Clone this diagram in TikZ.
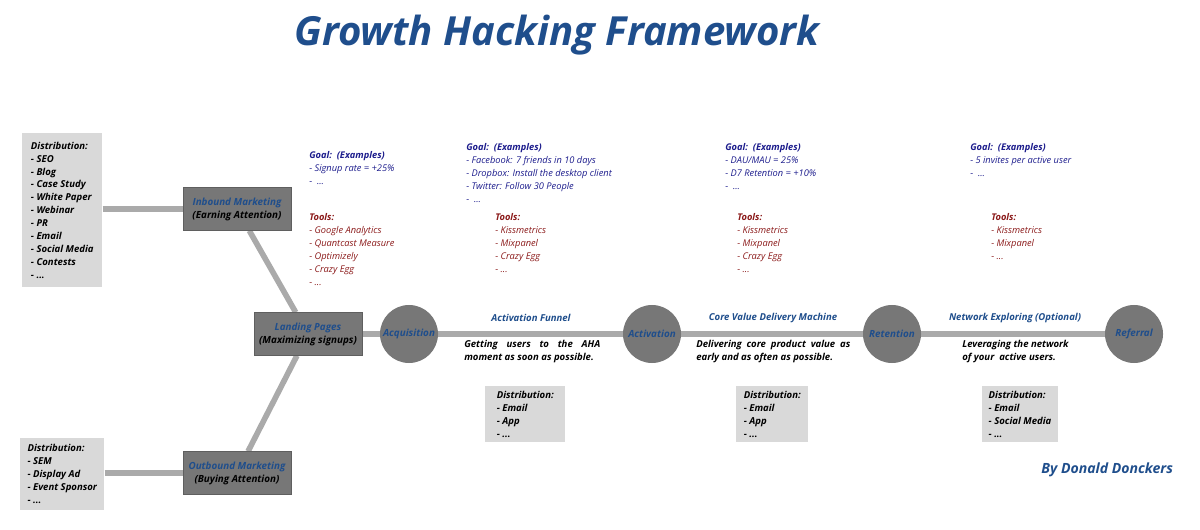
\documentclass[tikz,border=0pt]{standalone}
\usepackage{fontspec}
\setmainfont{Open Sans}
\usepackage{xcolor}
\usepackage{tikz}
\usetikzlibrary{positioning, calc, backgrounds}
\definecolor{titleblue}{HTML}{1F4E8C}
\definecolor{goalblue}{HTML}{1C1C8C}
\definecolor{toolred}{HTML}{8B1A1A}
\definecolor{stagegray}{HTML}{777777}
\definecolor{distgray}{HTML}{D9D9D9}
\definecolor{linegray}{HTML}{AAAAAA}
\newcommand{\fullline}[2]{\makebox[#1][s]{#2}}

\begin{document}
\begin{tikzpicture}[
    x=0.025cm, y=-0.025cm,
    font=\fontsize{6.6}{9.2}\selectfont\itshape,
    stage/.style={rectangle, draw=stagegray!80!black, fill=stagegray, minimum width=2.7cm, minimum height=1.07cm, align=center, inner sep=1pt, font=\fontsize{7}{9.2}\selectfont\bfseries\itshape},
    funnelstep/.style={circle, fill=stagegray, minimum size=1.45cm, inner sep=0pt, text=titleblue, font=\fontsize{7}{9.2}\selectfont\bfseries\itshape},
    dist/.style={rectangle, fill=distgray, anchor=north west, align=left, inner xsep=0.16cm, inner ysep=3pt, font=\fontsize{6.8}{9.2}\selectfont\bfseries\itshape},
    goal/.style={anchor=north west, align=left, inner sep=0pt, text=goalblue},
    tools/.style={anchor=north west, align=left, inner sep=0pt, text=toolred},
    phase/.style={text=titleblue, font=\fontsize{6.8}{9.2}\selectfont\bfseries\itshape},
    desc/.style={anchor=north west, align=left, inner sep=0pt, font=\fontsize{6.8}{9.2}\selectfont\bfseries\itshape},
    link/.style={line width=4pt, draw=linegray}
]
    \useasboundingbox (0,0) rectangle (1200,530);
    \node[text=titleblue, font=\fontsize{28.5}{32}\selectfont\bfseries\itshape] (title) at (557,35) {Growth Hacking Framework};

    % left column
    \node[dist, minimum width=2cm, minimum height=3.85cm] (inbdist) at (22,133) {Distribution:\\- SEO\\- Blog\\- Case Study\\- White Paper\\- Webinar\\- PR\\- Email\\- Social Media\\- Contests\\- ...};
    \node[dist, minimum width=2.1cm, minimum height=1.8cm] (outdist) at (20,438) {Distribution:\\- SEM\\- Display Ad\\- Event Sponsor\\- ...};
    \node[stage] (inbound) at (237,209) {\textcolor{titleblue}{Inbound Marketing}\\(Earning Attention)};
    \node[stage] (landing) at (308,334) {\textcolor{titleblue}{Landing Pages}\\(Maximizing signups)};
    \node[stage] (outbound) at (237,473) {\textcolor{titleblue}{Outbound Marketing}\\(Buying Attention)};

    % funnel steps
    \node[funnelstep] (acq) at (409,334) {Acquisition};
    \node[funnelstep] (act) at (652,334) {Activation};
    \node[funnelstep] (ret) at (892,334) {Retention};
    \node[funnelstep] (ref) at (1134,334) {Referral};

    \begin{scope}[on background layer]
    \draw[link] (inbdist.east |- inbound) -- (inbound);
    \draw[link] (outdist.east |- outbound) -- (outbound);
    \draw[link] (inbound) -- (landing);
    \draw[link] (landing) -- (outbound);
    \draw[link] (landing) -- (acq);
    \draw[link] (acq) -- (act);
    \draw[link] (act) -- (ret);
    \draw[link] (ret) -- (ref);
    \end{scope}

    % phase labels
    \node[phase] (funnel) at (531,318) {Activation Funnel};
    \node[phase] (core) at (773,318) {Core Value Delivery Machine};
    \node[phase] (network) at (1015,318) {Network Exploring (Optional)};
    \node[desc] (funneldesc) at (464,340) {\fullline{3.4cm}{Getting users to the AHA}\\moment as soon as possible.};
    \node[desc] (coredesc) at (696,340) {\fullline{3.85cm}{Delivering core product value as}\\early and as often as possible.};
    \node[desc] (networkdesc) at (962,340) {Leveraging the network\\of your\ \ active users.};

    % distribution boxes
    \node[dist, minimum width=2cm, minimum height=1.4cm] (actdist) at (485,386) {Distribution:\\- Email\\- App\\- ...};
    \node[dist, minimum width=1.8cm, minimum height=1.4cm] (retdist) at (736,386) {Distribution:\\- Email\\- App\\- ...};
    \node[dist, minimum width=1.75cm, minimum height=1.4cm] (refdist) at (982,386) {Distribution:\\- Email\\- Social Media\\- ...};

    % goals
    \node[goal] (acqgoal) at (309,151) {\textbf{Goal:\ \ (Examples)}\\- Signup rate = +25\%\\-\ \ ...};
    \node[goal] (actgoal) at (466,143) {\textbf{Goal:\ \ (Examples)}\\- Facebook: 7 friends in 10 days\\- Dropbox: Install the desktop client\\- Twitter: Follow 30 People\\-\ \ ...};
    \node[goal] (retgoal) at (725,143) {\textbf{Goal:\ \ (Examples)}\\- DAU/MAU = 25\%\\- D7 Retention = +10\%\\-\ \ ...};
    \node[goal] (refgoal) at (970,143) {\textbf{Goal:\ \ (Examples)}\\- 5 invites per active user\\-\ \ ...};

    % tools
    \node[tools] (acqtools) at (309,213) {\textbf{Tools:}\\- Google Analytics\\- Quantcast Measure\\- Optimizely\\- Crazy Egg\\- ...};
    \node[tools] (acttools) at (495,213) {\textbf{Tools:}\\- Kissmetrics\\- Mixpanel\\- Crazy Egg\\- ...};
    \node[tools] (rettools) at (737,213) {\textbf{Tools:}\\- Kissmetrics\\- Mixpanel\\- Crazy Egg\\- ...};
    \node[tools] (reftools) at (991,213) {\textbf{Tools:}\\- Kissmetrics\\- Mixpanel\\- ...};

    \node[anchor=east, text=titleblue, font=\fontsize{10}{12}\selectfont\bfseries\itshape] (author) at (1178,470) {By Donald Donckers};
\end{tikzpicture}
\end{document}
